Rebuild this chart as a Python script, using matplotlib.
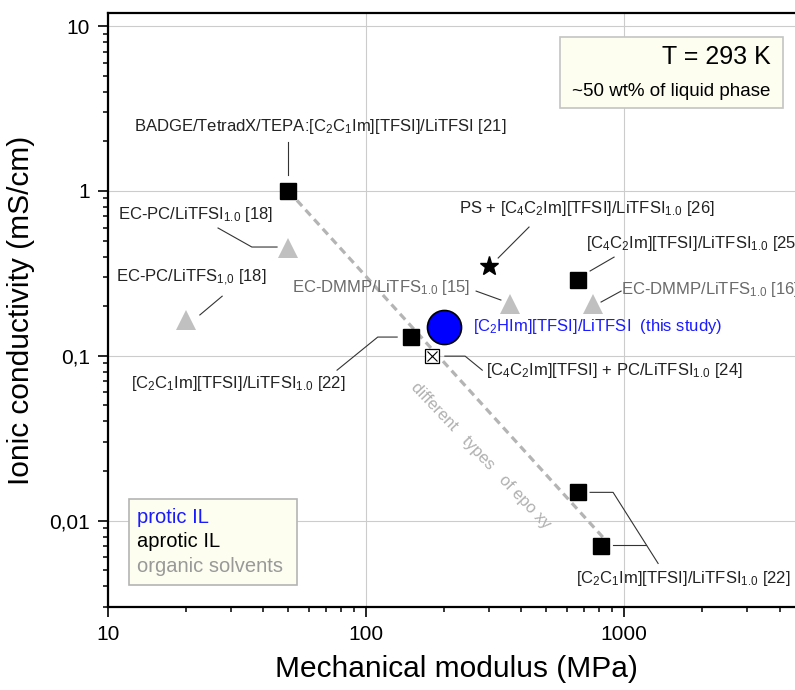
import matplotlib
matplotlib.use("Agg")
import matplotlib.pyplot as plt
from matplotlib.patches import Rectangle
from matplotlib.ticker import FixedLocator, FixedFormatter, LogLocator, NullFormatter

plt.rcParams["font.family"] = ["Liberation Sans", "DejaVu Sans"]
plt.rcParams["mathtext.fontset"] = "custom"
plt.rcParams["mathtext.rm"] = "Liberation Sans"
plt.rcParams["mathtext.it"] = "Liberation Sans:italic"
plt.rcParams["mathtext.bf"] = "Liberation Sans:bold"

# aprotic ionic liquids (black squares)
aprotic_mod = [50, 150, 660, 660, 810]
aprotic_cond = [1.0, 0.13, 0.29, 0.015, 0.007]
# organic solvent electrolytes (grey triangles)
solvent_mod = [50, 20, 360, 760]
solvent_cond = [0.45, 0.165, 0.205, 0.205]
# protic IL, this study
protic_mod = [200]
protic_cond = [0.15]
# PS composite (star) and IL + PC (crossed square)
ps_mod, ps_cond = [300], [0.35]
ilpc_mod, ilpc_cond = [180], [0.10]
# epoxy trend line
trend_mod = [50, 830]
trend_cond = [1.0, 0.0079]

x_ticks = [10, 100, 1000]
x_ticklabels = ["10", "100", "1000"]
y_ticks = [0.01, 0.1, 1, 10]
y_ticklabels = ["0,01", "0,1", "1", "10"]

GREY = "#c0c0c0"
TXT = "#222222"
DMMP = "#6a6a6a"

# label text, anchor (x, y), horizontal alignment, colour, leader polyline
labels = [
    ("BADGE/TetradX/TEPA:[C$_2$C$_1$Im][TFSI]/LiTFSI [21]", 12.6, 2.45, "left", TXT,
     [50, 50], [1.98, 1.25]),
    ("EC-PC/LiTFSI$_{1.0}$ [18]", 10.9, 0.715, "left", TXT,
     [26.7, 36.1, 45.2], [0.596, 0.457, 0.457]),
    ("EC-PC/LiTFS$_{1{,}0}$ [18]", 10.7, 0.296, "left", TXT,
     [22.7, 27.7], [0.177, 0.230]),
    ("EC-DMMP/LiTFS$_{1.0}$ [15]", 253, 0.261, "right", DMMP,
     [267, 333], [0.247, 0.218]),
    ("PS + [C$_4$C$_2$Im][TFSI]/LiTFSI$_{1.0}$ [26]", 229, 0.778, "left", TXT,
     [428, 325], [0.604, 0.392]),
    ("[C$_4$C$_2$Im][TFSI]/LiTFSI$_{1.0}$ [25]", 713, 0.483, "left", TXT,
     [738, 914], [0.327, 0.397]),
    ("EC-DMMP/LiTFS$_{1.0}$ [16]", 975, 0.251, "left", DMMP,
     [814, 973], [0.212, 0.247]),
    ("[C$_2$HIm][TFSI]/LiTFSI  (this study)", 260, 0.151, "left", "#1a1aff",
     [], []),
    ("[C$_4$C$_2$Im][TFSI] + PC/LiTFSI$_{1.0}$ [24]", 292, 0.0819, "left", TXT,
     [202, 242, 282], [0.0996, 0.0996, 0.0819]),
    ("[C$_2$C$_1$Im][TFSI]/LiTFSI$_{1.0}$ [22]", 12.3, 0.0683, "left", TXT,
     [77.2, 111, 132], [0.0819, 0.130, 0.130]),
    ("[C$_2$C$_1$Im][TFSI]/LiTFSI$_{1.0}$ [22]", 652, 0.00447, "left", TXT,
     [738, 906, 1354], [0.01487, 0.01487, 0.00551]),
]
extra_leaders = [([906, 1217], [0.00709, 0.00709])]

fig = plt.figure(figsize=(7.95, 6.9), dpi=100)
ax = fig.add_axes([0.1358, 0.1203, 0.8762, 0.8609])
ax.set_xscale("log")
ax.set_yscale("log")
ax.set_xlim(10, 5000)
ax.set_ylim(0.003, 12)

ax.xaxis.set_major_locator(FixedLocator(x_ticks))
ax.xaxis.set_major_formatter(FixedFormatter(x_ticklabels))
ax.yaxis.set_major_locator(FixedLocator(y_ticks))
ax.yaxis.set_major_formatter(FixedFormatter(y_ticklabels))
ax.xaxis.set_minor_locator(LogLocator(base=10, subs=range(2, 10)))
ax.yaxis.set_minor_locator(LogLocator(base=10, subs=range(2, 10)))
ax.xaxis.set_minor_formatter(NullFormatter())
ax.yaxis.set_minor_formatter(NullFormatter())
ax.tick_params(which="major", direction="out", length=7, width=1.2,
               labelsize=15, pad=6)
ax.tick_params(which="minor", direction="out", length=3.5, width=1.1)
ax.tick_params(top=False, right=False, which="both")
for s in ax.spines.values():
    s.set_linewidth(1.6)
ax.grid(True, which="major", color="#cccccc", linewidth=0.8)
ax.set_axisbelow(True)

# epoxy trend and its label
ax.plot(trend_mod, trend_cond, color="#b4b4b4", linestyle=(0, (2.4, 1.6)),
        linewidth=2.3, zorder=2)
ax.text(277, 0.0249, "different   types   of epo xy", color="#b0b0b0",
        fontsize=12, rotation=-46.5, rotation_mode="anchor",
        ha="center", va="center", zorder=2)

# leader lines
for _, _, _, _, _, lx, ly in labels:
    if lx:
        ax.plot(lx, ly, color="#333333", linewidth=0.8, zorder=3)
for lx, ly in extra_leaders:
    ax.plot(lx, ly, color="#333333", linewidth=0.8, zorder=3)

# data markers
ax.plot(solvent_mod, solvent_cond, linestyle="none", marker="^",
        markersize=14.5, color=GREY, markeredgewidth=0, zorder=4)
ax.plot(aprotic_mod, aprotic_cond, linestyle="none", marker="s",
        markersize=11, color="black", zorder=5)
ax.plot(ps_mod, ps_cond, linestyle="none", marker="*",
        markersize=14, color="black", zorder=5)
ax.plot(ilpc_mod, ilpc_cond, linestyle="none", marker="s", markersize=10.5,
        markerfacecolor="white", markeredgecolor="black",
        markeredgewidth=0.9, zorder=5)
ax.plot(ilpc_mod, ilpc_cond, linestyle="none", marker="x", markersize=7.5,
        color="black", markeredgewidth=0.8, zorder=6)
ax.plot(protic_mod, protic_cond, linestyle="none", marker="o",
        markersize=24.5, markerfacecolor="#0000ff", markeredgecolor="black",
        markeredgewidth=1.2, zorder=5)

for txt, tx, ty, ha, col, _, _ in labels:
    ax.text(tx, ty, txt, fontsize=12, color=col, ha=ha, va="center",
            zorder=6)

ax.set_xlabel("Mechanical modulus (MPa)", fontsize=21.5, labelpad=8)
ax.set_ylabel("Ionic conductivity (mS/cm)", fontsize=21.5, labelpad=10)

# conditions box
fig.patches.append(Rectangle((0.7044, 0.8435), 0.2805, 0.1029,
                             transform=fig.transFigure, facecolor="#fdfdf0",
                             edgecolor="#c4c4c4", linewidth=1.2, zorder=10))
fig.text(0.9695, 0.9174, "T = 293 K", fontsize=18, ha="right", va="center",
         zorder=11)
fig.text(0.9695, 0.8681, "~50 wt% of liquid phase", fontsize=13.5,
         ha="right", va="center", zorder=11)

# colour key box
fig.patches.append(Rectangle((0.1623, 0.1522), 0.2113, 0.1246,
                             transform=fig.transFigure, facecolor="#fdfdf0",
                             edgecolor="#b4b4b4", linewidth=1.2, zorder=10))
for t, c, yy in [("protic IL", "#1a1aff", 0.2507),
                 ("aprotic IL", "black", 0.2145),
                 ("organic solvents", "#999999", 0.1783)]:
    fig.text(0.1723, yy, t, fontsize=14.5, color=c, ha="left", va="center",
             zorder=11)

fig.savefig("out.png", dpi=100)
